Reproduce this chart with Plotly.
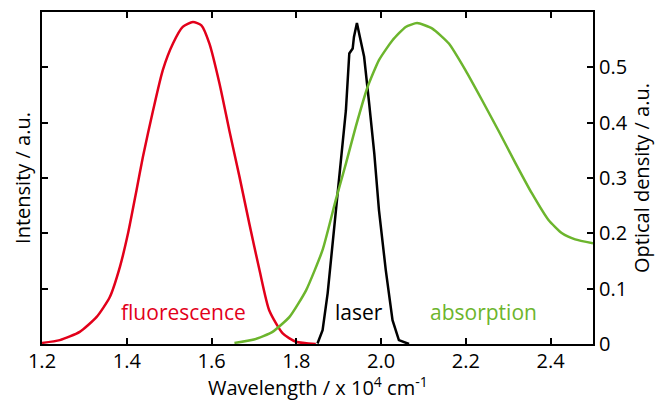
import plotly.graph_objects as go

# Fluorescence (plotted on common 0-0.6 scale)
fluor_x = [1.20, 1.242, 1.289, 1.329, 1.36, 1.384, 1.403, 1.423, 1.438, 1.462, 1.485, 1.509, 1.532,
           1.556, 1.576, 1.595, 1.619, 1.642, 1.666, 1.689, 1.713, 1.736, 1.768, 1.799, 1.846]
fluor_y = [0.002, 0.007, 0.022, 0.049, 0.085, 0.14, 0.20, 0.278, 0.338, 0.422, 0.495, 0.543, 0.573,
           0.582, 0.576, 0.543, 0.47, 0.386, 0.302, 0.218, 0.134, 0.061, 0.019, 0.004, 0.0]

# Laser
laser_x = [1.85, 1.862, 1.874, 1.886, 1.901, 1.917, 1.925, 1.933, 1.936, 1.943, 1.95, 1.96,
           1.972, 1.984, 1.995, 2.011, 2.027, 2.042, 2.066]
laser_y = [0.001, 0.025, 0.092, 0.182, 0.302, 0.422, 0.525, 0.534, 0.555, 0.58, 0.555, 0.519,
           0.434, 0.344, 0.242, 0.134, 0.043, 0.007, 0.0]

# Absorption (optical density)
abs_x = [1.654, 1.70, 1.744, 1.784, 1.823, 1.862, 1.893, 1.917, 1.94, 1.968, 1.995, 2.027, 2.058,
         2.085, 2.121, 2.16, 2.199, 2.238, 2.278, 2.317, 2.356, 2.395, 2.427, 2.458, 2.50]
abs_y = [0.002, 0.008, 0.022, 0.049, 0.097, 0.17, 0.26, 0.326, 0.392, 0.464, 0.513, 0.549, 0.573,
         0.58, 0.57, 0.543, 0.495, 0.441, 0.384, 0.327, 0.272, 0.224, 0.20, 0.189, 0.182]

od_ticks = [0, 0.1, 0.2, 0.3, 0.4, 0.5]
od_labels = ["0", "0.1", "0.2", "0.3", "0.4", "0.5"]
x_ticks = [1.2, 1.4, 1.6, 1.8, 2.0, 2.2, 2.4]
x_labels = ["1.2", "1.4", "1.6", "1.8", "2.0", "2.2", "2.4"]

RED = "#e2001a"
GREEN = "#6cb52d"
FONT = "Open Sans"
FS = 20

fig = go.Figure()
fig.add_trace(go.Scatter(x=fluor_x, y=fluor_y, mode="lines",
                         line=dict(color=RED, width=2.5, shape="spline", smoothing=0.6),
                         showlegend=False))
fig.add_trace(go.Scatter(x=laser_x, y=laser_y, mode="lines", line=dict(color="black", width=2.5),
                         showlegend=False))
fig.add_trace(go.Scatter(x=abs_x, y=abs_y, mode="lines",
                         line=dict(color=GREEN, width=2.5, shape="spline", smoothing=0.5),
                         showlegend=False, yaxis="y2"))

fig.add_annotation(x=1.535, y=0.058, text="fluorescence", showarrow=False,
                   font=dict(color=RED, size=21, family=FONT))
fig.add_annotation(x=1.947, y=0.058, text="laser", showarrow=False,
                   font=dict(color="black", size=21, family=FONT))
fig.add_annotation(x=2.242, y=0.058, text="absorption", showarrow=False,
                   font=dict(color=GREEN, size=21, family=FONT))
# x-axis title
fig.add_annotation(xref="paper", yref="paper", x=0.5, y=-0.177, xanchor="center", yanchor="bottom",
                   text="Wavelength / x 10<sup>4</sup> cm<sup>-1</sup>", showarrow=False,
                   font=dict(color="black", size=FS, family=FONT))

axis_common = dict(showgrid=False, zeroline=False, showline=True, linecolor="black", linewidth=2,
                   ticks="inside", ticklen=6, tickwidth=1.5, tickcolor="black", automargin=False)

fig.update_layout(
    width=660, height=402,
    margin=dict(l=42, r=67, t=12, b=58),
    paper_bgcolor="white", plot_bgcolor="white",
    font=dict(family=FONT, size=FS, color="black"),
    xaxis=dict(range=[1.2, 2.5], tickvals=x_ticks, ticktext=x_labels, mirror="ticks",
               ticklabelstandoff=-2, **axis_common),
    yaxis=dict(range=[0, 0.6], tickvals=od_ticks, showticklabels=False,
               title=dict(text="Intensity / a.u.", standoff=4, font=dict(size=FS)), **axis_common),
    yaxis2=dict(range=[0, 0.6], tickvals=od_ticks, ticktext=od_labels, overlaying="y", side="right",
                title=dict(text="Optical density / a.u.", standoff=4, font=dict(size=FS)), **axis_common),
)

fig.write_html("out.html", config={"displayModeBar": False},
               post_script="document.body.style.margin='0';document.body.style.overflow='hidden';")
